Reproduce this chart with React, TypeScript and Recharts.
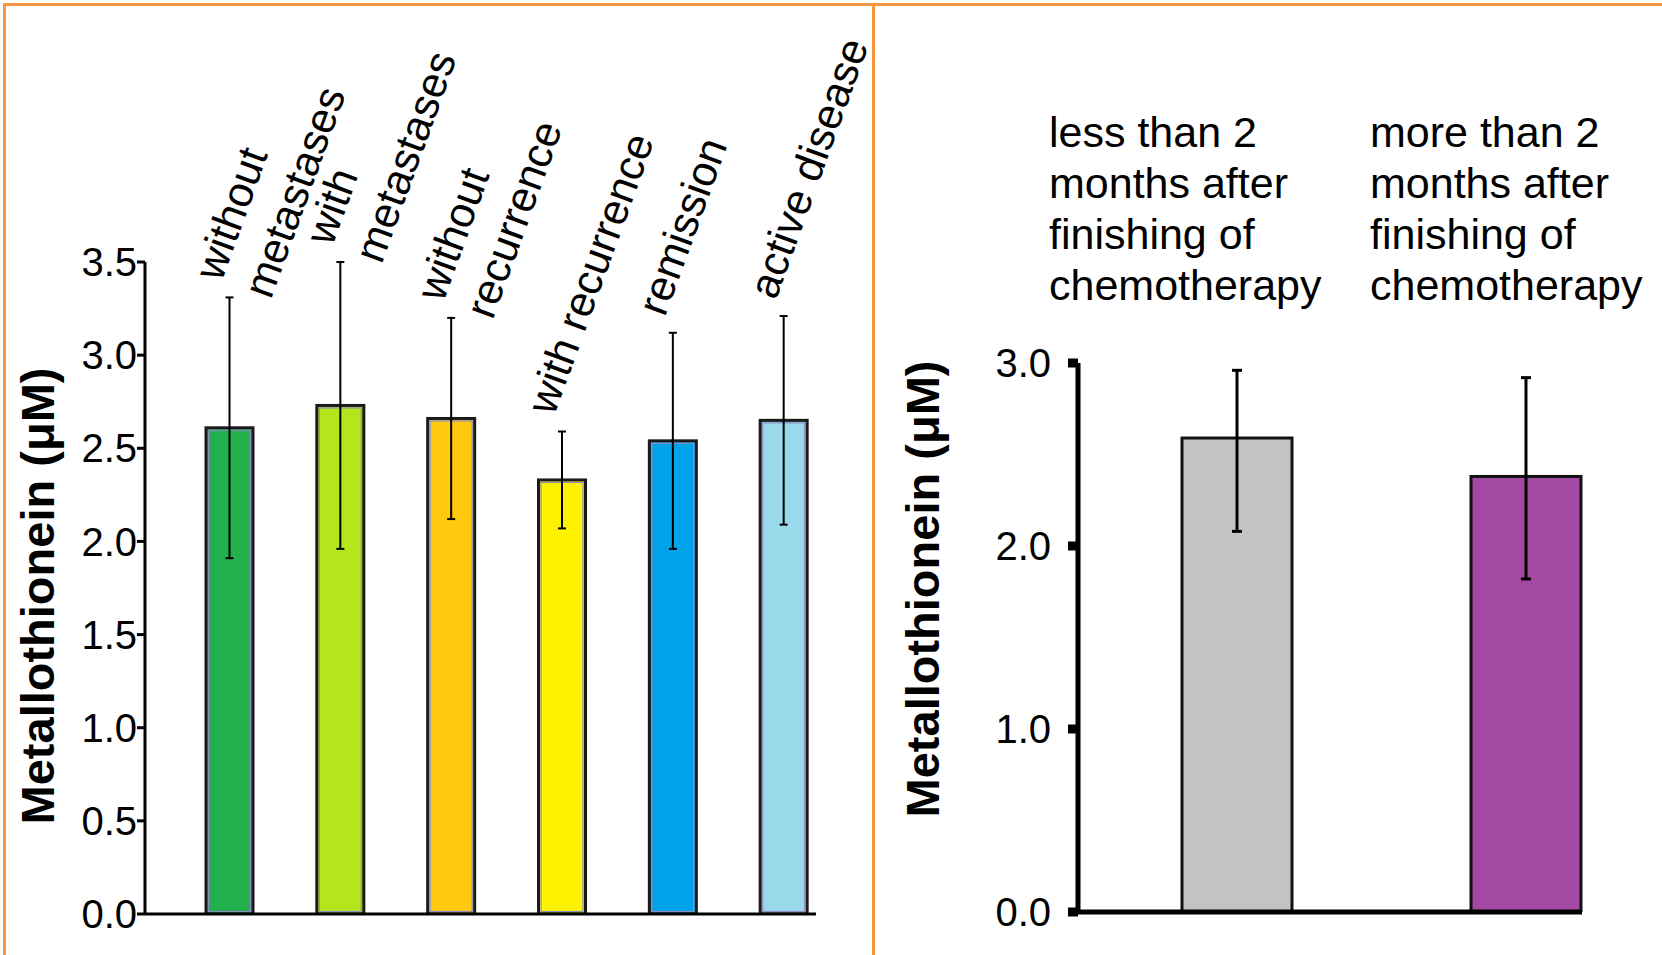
import React from 'react';
import { BarChart, Bar, XAxis, YAxis, ErrorBar, LabelList, Cell } from 'recharts';

const FONT = "'Liberation Sans', Arial, sans-serif";

// left panel: metallothionein by disease stage
const stageNames = ['without metastases', 'with metastases', 'without recurrence', 'with recurrence', 'remission', 'active disease'];
const stageLines = [['without', 'metastases'], ['with', 'metastases'], ['without', 'recurrence'], ['with recurrence'], ['remission'], ['active disease']];
const stageMeans = [2.61, 2.73, 2.66, 2.33, 2.54, 2.65];
const stageErrors = [0.7, 0.77, 0.54, 0.26, 0.58, 0.56];
const stageTicks = [0, 0.5, 1, 1.5, 2, 2.5, 3, 3.5];
const stageColors = ['#22b14c', '#b5e61d', '#ffc90e', '#fff200', '#00a2e8', '#99d9ea'];

// right panel: after chemotherapy (errors as [below, above])
const chemoNames = ['less than 2 months', 'more than 2 months'];
const chemoLines = [
  ['less than 2', 'months after', 'finishing of', 'chemotherapy'],
  ['more than 2', 'months after', 'finishing of', 'chemotherapy'],
];
const chemoMeans = [2.59, 2.38];
const chemoErrors = [[0.51, 0.37], [0.56, 0.54]];
const chemoTicks = [0, 1, 2, 3];
const chemoColors = ['#c3c3c3', '#a349a4'];

const stageData = stageNames.map((name, i) => ({ name, value: stageMeans[i], err: stageErrors[i] }));
const chemoData = chemoNames.map((name, i) => ({ name, value: chemoMeans[i], err: chemoErrors[i] }));

const ORANGE = '#f7963e';

function OutlinedBar(props: any) {
  const { x, y, width, height, fill } = props;
  if (!height) return null;
  return (
    <g>
      <rect x={x} y={y} width={width} height={height} fill={fill} stroke="#1a1a1a" strokeWidth={3} />
      <rect x={x + 2.5} y={y + 2.5} width={width - 5} height={height - 5} fill="none" stroke="#8d8dc4" strokeWidth={1.2} />
    </g>
  );
}

function PlainBar(props: any) {
  const { x, y, width, height, fill } = props;
  if (!height) return null;
  return <rect x={x} y={y} width={width} height={height} fill={fill} stroke="#111" strokeWidth={3} />;
}

// rotated labels sit just above the top of each error bar
function StageLabel(props: any) {
  const vb = props.viewBox && props.viewBox.x != null ? props.viewBox : props;
  const { x, y, width, height } = vb;
  const index = props.index;
  if (x == null || index == null) return null;
  const cx = x + width / 2;
  const perUnit = height / stageMeans[index];
  const errTop = y - stageErrors[index] * perUnit;
  const ax = cx - 8;
  const ay = errTop - 15;
  return (
    <text x={ax} y={ay} transform={`rotate(-70 ${ax} ${ay})`} fontSize={43} fontFamily={FONT} fill="#000">
      {stageLines[index].map((l, i) => (
        <tspan key={i} x={ax} dy={i === 0 ? 0 : '1.22em'}>{l}</tspan>
      ))}
    </text>
  );
}

function YTitle({ tx, ty }: { tx: number; ty: number }) {
  return (
    <text x={tx} y={ty} transform={`rotate(-90 ${tx} ${ty})`} textAnchor="middle" dominantBaseline="central"
      fontSize={47} fontWeight="bold" fontFamily={FONT} fill="#000">
      Metallothionein (μM)
    </text>
  );
}

const tickStyle = { fill: '#000', fontSize: 40, fontFamily: FONT };

export default function App() {
  return (
    <div style={{ position: 'absolute', left: 0, top: 0, width: 1662, height: 955, overflow: 'hidden', background: '#fff', fontFamily: FONT }}>
      <div style={{ position: 'absolute', left: 3, top: 3, width: 872, height: 1000, border: `3px solid ${ORANGE}`, boxSizing: 'border-box' }} />
      <div style={{ position: 'absolute', left: 872, top: 3, width: 900, height: 1000, border: `3px solid ${ORANGE}`, boxSizing: 'border-box' }} />

      <div style={{ position: 'absolute', left: 0, top: 0 }}>
        <BarChart width={880} height={955} data={stageData} margin={{ top: 262, right: 64, bottom: 40, left: 0 }} barSize={47}>
          <XAxis dataKey="name" height={1} tick={false} tickLine={false}
            axisLine={{ stroke: '#000', strokeWidth: 3 }} padding={{ left: 29, right: -23 }} />
          <YAxis type="number" domain={[0, 3.5]} ticks={stageTicks} interval={0} width={145} allowDataOverflow
            tickFormatter={(v: number) => v.toFixed(1)} tick={tickStyle} tickSize={8} tickMargin={0}
            axisLine={{ stroke: '#000', strokeWidth: 3 }} tickLine={{ stroke: '#000', strokeWidth: 3 }}
            label={<YTitle tx={37} ty={596} />} />
          <Bar dataKey="value" shape={<OutlinedBar />} isAnimationActive={false}>
            {stageData.map((d, i) => <Cell key={d.name} fill={stageColors[i]} />)}
            <ErrorBar dataKey="err" width={4} stroke="#000" strokeWidth={2} direction="y" />
            <LabelList dataKey="name" content={<StageLabel />} />
          </Bar>
        </BarChart>
      </div>

      <div style={{ position: 'absolute', left: 873, top: 0 }}>
        <BarChart width={789} height={955} data={chemoData} margin={{ top: 363, right: 80, bottom: 42, left: 0 }} barSize={110}>
          <XAxis dataKey="name" height={1} tick={false} tickLine={false}
            axisLine={{ stroke: '#000', strokeWidth: 5 }} padding={{ left: 14, right: -88 }} />
          <YAxis type="number" domain={[0, 3]} ticks={chemoTicks} interval={0} width={205} allowDataOverflow
            tickFormatter={(v: number) => v.toFixed(1)} tick={tickStyle} tickSize={10} tickMargin={17}
            axisLine={{ stroke: '#000', strokeWidth: 5 }} tickLine={{ stroke: '#000', strokeWidth: 9 }}
            label={<YTitle tx={49} ty={589} />} />
          <Bar dataKey="value" shape={<PlainBar />} isAnimationActive={false}>
            {chemoData.map((d, i) => <Cell key={d.name} fill={chemoColors[i]} />)}
            <ErrorBar dataKey="err" width={5} stroke="#000" strokeWidth={3} direction="y" />
          </Bar>
        </BarChart>
      </div>

      {chemoLines.map((lines, i) => (
        <div key={i} style={{ position: 'absolute', left: i === 0 ? 1049 : 1370, top: 107, fontSize: 43, lineHeight: '51px', color: '#000', whiteSpace: 'nowrap' }}>
          {lines.map((l) => <div key={l}>{l}</div>)}
        </div>
      ))}
    </div>
  );
}
